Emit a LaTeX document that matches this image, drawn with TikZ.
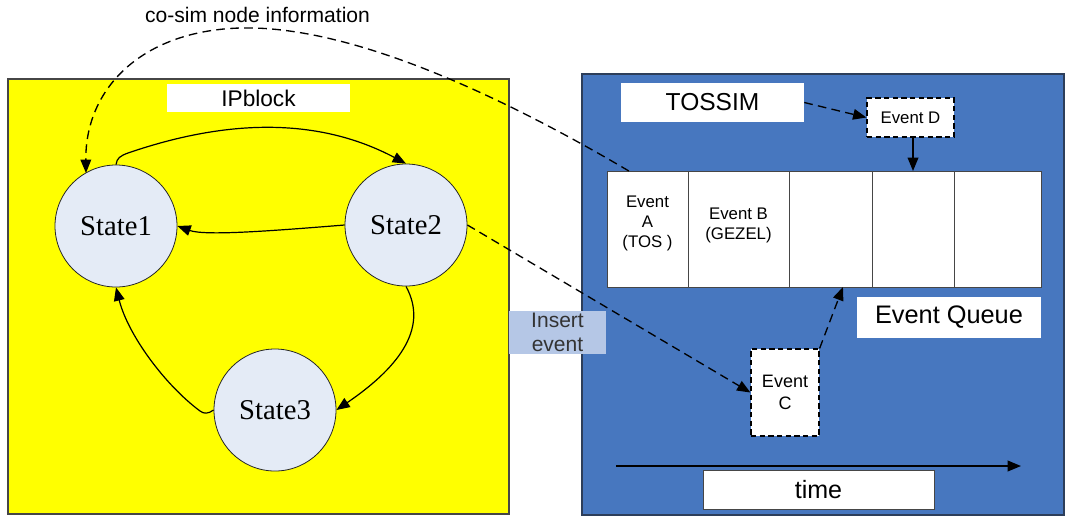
\documentclass[tikz,border=0pt]{standalone}
\usepackage{fontspec}
\setmainfont{Liberation Sans}
\newfontfamily\statefont{Liberation Serif}
\usetikzlibrary{arrows.meta,calc}
\definecolor{ipyellow}{RGB}{255,255,0}
\definecolor{simblue}{RGB}{71,119,191}
\definecolor{simborder}{RGB}{45,62,90}
\definecolor{statefill}{RGB}{228,235,246}
\definecolor{insfill}{RGB}{181,199,230}
\definecolor{edgegray}{RGB}{70,70,70}
\newcommand\fsz[1]{\fontsize{#1}{#1}\selectfont}
\begin{document}
\begin{tikzpicture}[x=0.75pt,y=-0.75pt,
  >={Triangle[length=10pt,width=8pt]},
  flow/.style={->,line width=0.9pt},
  dflow/.style={->,line width=1pt,dash pattern=on 6.5pt off 4pt},
  state/.style={circle,draw=black!85,fill=statefill,line width=0.6pt,
    minimum size=91.5pt,inner sep=0pt,font=\statefont\fontsize{21.5}{24}\selectfont},
  tag/.style={fill=white,inner sep=0pt},
  cell/.style={draw=edgegray,fill=white,line width=0.7pt,minimum height=87pt,
    inner sep=0pt,outer sep=0pt,anchor=west},
  evbox/.style={fill=white,draw=black,line width=0.9pt,dash pattern=on 4pt off 2.5pt,
    inner sep=0pt,align=center},
  small/.style={font=\fontsize{12.6}{15}\selectfont,align=center}]
\useasboundingbox (0,0) rectangle (1066,519);
\fill[white] (0,0) rectangle (1066,519);

% the two panels
\draw[fill=ipyellow,draw=edgegray,line width=0.8pt] (8,79) rectangle (509,514);
\draw[fill=simblue,draw=simborder,line width=0.8pt] (582,74) rectangle (1064,515);

% IP block side
\node[tag,minimum width=137.25pt,minimum height=21pt,font=\fsz{17}] (ipb) at (258.5,98) {IPblock};
\node[state] (s1) at (116,226) {State1};
\node[state] (s2) at (406,225) {State2};
\node[state] (s3) at (275,410) {State3};

\draw[flow] (s1.north) .. controls (117,158) and (120,156) .. (128,153)
  .. controls (230,118) and (320,118) .. (s2.north);
\draw[flow] (s2.west) .. controls (270,231) and (205,236) .. (s1.east);
\draw[flow] (s2.south) .. controls (430,330) and (395,370) .. (s3.east);
\draw[flow] (s3.west) .. controls (208,414) and (204,414) .. (200,411)
  .. controls (165,385) and (128,335) .. (s1.south);

% simulator side
\node[tag,minimum width=137.25pt,minimum height=29.25pt,font=\fsz{18.4}] (tos) at (712.5,102.5) {TOSSIM};
\node[evbox,minimum width=65.25pt,minimum height=29.25pt,font=\fsz{12.6}] (ed) at (910.5,117.5) {Event D};

\node[cell,minimum width=60.75pt] (q1) at (607,229) {};
\node[cell,minimum width=75.75pt] (q2) at (q1.east) {};
\node[cell,minimum width=62.25pt] (q3) at (q2.east) {};
\node[cell,minimum width=61.5pt] (q4) at (q3.east) {};
\node[cell,minimum width=65.25pt] (q5) at (q4.east) {};
\node[small] (qa) at (647.5,223) {Event\\A\\(TOS )};
\node[small] (qb) at (738.5,225) {Event B\\(GEZEL)};

\node[tag,minimum width=138pt,minimum height=30.75pt,font=\fsz{19}] (eq) at (949,317.5) {Event Queue};
\node[evbox,minimum width=51pt,minimum height=65.25pt,font=\fontsize{13.5}{17}\selectfont] (ec) at (785,392.5) {Event\\C};
\node[tag,draw=edgegray,line width=0.6pt,minimum width=173.25pt,minimum height=29.25pt,font=\fsz{18.8}] (tm) at (818.5,489.5) {time};

\node[fill=insfill,inner sep=0pt,minimum width=72.75pt,minimum height=32.25pt,
  align=center,text=black!80,font=\fontsize{15.75}{18}\selectfont] (ins) at (557.5,332.5) {Insert\\event};

\coordinate (t0) at (616,466);
\coordinate (t1) at (1021,466);
\draw[->,line width=1.2pt] (t0) -- (t1);

\draw[dflow] (tos.east) -- (ed.west);
\draw[->,line width=1pt] (ed.south -| q4.north) -- (q4.north);
\coordinate (ecin) at ($(q3.south west)!0.65!(q3.south east)$);
\draw[dflow] (ec.north east) -- (ecin);
\draw[dflow] (s2.east) -- (ec.west);

% co-simulation information fed back into the IP block
\coordinate (cosim) at ($(q1.north west)!0.27!(q1.north east)$);
\draw[dflow] (cosim) .. controls (500,95) and (350,25) .. (240,28)
  .. controls (140,31) and (85,90) .. ($(s1)+(-30,-53)$);
\node[font=\fsz{15.8},anchor=base] (cosimlbl) at (257.5,22) {co-sim node information};
\end{tikzpicture}
\end{document}
